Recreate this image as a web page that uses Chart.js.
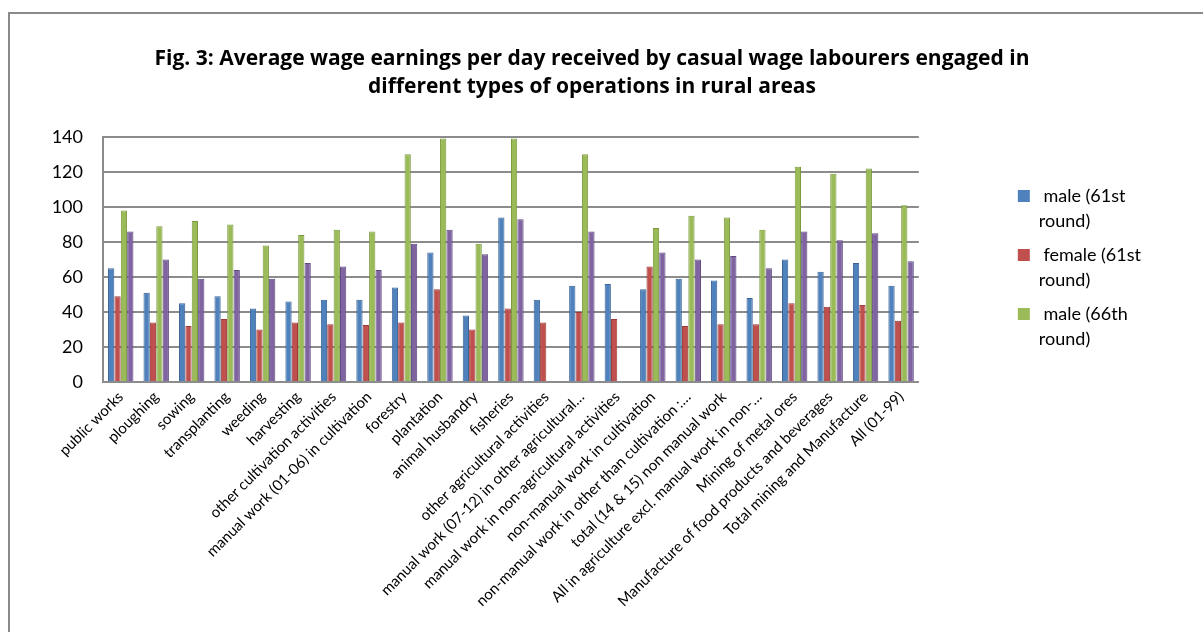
<!DOCTYPE html>
<html>
<head>
<meta charset="utf-8">
<script src="https://cdn.jsdelivr.net/npm/chart.js@4.4.1/dist/chart.umd.min.js"></script>
<style>
  html, body { margin: 0; padding: 0; background: #fff; overflow: hidden; }
  .frame {
    position: absolute; left: 8px; top: 12px; width: 1300px; height: 700px;
    border-left: 2px solid #8a8a8a; border-top: 2px solid #8a8a8a;
  }
  .wrap { position: absolute; left: 0; top: 0; width: 1203px; height: 632px; }
</style>
</head>
<body>
<div class="frame"></div>
<div class="wrap"><canvas id="wageChart" width="1203" height="632"></canvas></div>
<script>
// Categories (operations)
const categories = [
  "public works",
  "ploughing",
  "sowing",
  "transplanting",
  "weeding",
  "harvesting",
  "other cultivation activities",
  "manual work (01-06) in cultivation",
  "forestry",
  "plantation",
  "animal husbandry",
  "fisheries",
  "other agricultural activities",
  "manual work (07-12) in other agricultural…",
  "manual work in non-agricultural activities",
  "non-manual work in cultivation",
  "non-manual work in other than cultivation :…",
  "total (14 & 15) non manual work",
  "All in agriculture excl. manual work in non-…",
  "Mining of metal ores",
  "Manufacture of food products and beverages",
  "Total mining and Manufacture",
  "All (01-99)",
];

// Average wage per day (Rs.)
const male61 = [65, 51, 45, 49, 42, 46, 47, 47, 54, 74, 38, 94, 47, 55, 56, 53, 59, 58, 48, 70, 63, 68, 55];
const female61 = [49, 34, 32, 36, 30, 34, 33, 32.5, 34, 53, 30, 42, 34, 40, 36, 66, 32, 33, 33, 45, 43, 44, 35];
const male66 = [98, 89, 92, 90, 78, 84, 87, 86, 130, 139, 79, 139, null, 130, null, 88, 95, 94, 87, 123, 119, 122, 101];
const female66 = [86, 70, 59, 64, 59, 68, 66, 64, 79, 87, 73, 93, null, 86, null, 74, 70, 72, 65, 86, 81, 85, 69];

const seriesNames = ["male (61st round)", "female (61st round)", "male (66th round)", "female (66th round)"];
const titleLines = [
  "Fig. 3: Average wage earnings per day received by casual wage labourers engaged in",
  "different types of operations in rural areas",
];
const yTicks = [0, 20, 40, 60, 80, 100, 120, 140];

const fills = ["#4f81bd", "#c0504d", "#9bbb59", "#8064a2"];
const edges = ["#3a6496", "#9b3b38", "#7a9a3e", "#5f4a80"];
const seriesData = [male61, female61, male66, female66];

const ctx = document.getElementById("wageChart").getContext("2d");
new Chart(ctx, {
  type: "bar",
  data: {
    labels: categories,
    datasets: seriesData.map(function (d, i) {
      return {
        label: seriesNames[i],
        data: d,
        backgroundColor: fills[i],
        borderColor: edges[i],
        borderWidth: 1,
        categoryPercentage: 0.72,
        barPercentage: 0.98,
      };
    }),
  },
  options: {
    responsive: false,
    animation: false,
    devicePixelRatio: 1,
    layout: { padding: { left: 33, right: 52, top: 0, bottom: 0 } },
    scales: {
      x: {
        grid: { display: false, drawTicks: false },
        border: { display: true, color: "#8c8c8c", width: 2 },
        ticks: {
          autoSkip: false,
          minRotation: 45,
          maxRotation: 45,
          padding: 6,
          color: "#000",
          font: { family: "Lato", size: 15 },
        },
        afterFit: function (s) { s.height = 250; },
      },
      y: {
        min: 0,
        max: 140,
        afterBuildTicks: function (s) { s.ticks = yTicks.map(function (v) { return { value: v }; }); },
        grid: { color: "#8c8c8c", lineWidth: 2, drawTicks: false },
        border: { display: true, color: "#8c8c8c", width: 2 },
        ticks: { padding: 20, color: "#000", font: { family: "Lato", size: 18 } },
        afterFit: function (s) { s.width = 70; },
      },
      gap: {
        position: "right",
        display: true,
        grid: { display: false },
        border: { display: false },
        ticks: { display: false },
        afterFit: function (s) { s.width = 90; },
      },
    },
    plugins: {
      title: {
        display: true,
        text: titleLines,
        color: "#000",
        font: { family: "Open Sans", size: 21, weight: "bold", lineHeight: 1.33 },
        padding: { top: 45, bottom: 36 },
      },
      legend: {
        position: "right",
        fullSize: false,
        // blank legend title only pushes the entries down a little
        title: { display: true, text: " ", font: { size: 1 }, padding: { top: 11, bottom: 11 } },
        labels: {
          boxWidth: 12,
          boxHeight: 12,
          padding: 9,
          color: "#000",
          font: { family: "Lato", size: 18, lineHeight: 1.39 },
          filter: function (item) { return item.datasetIndex < 3; },
          generateLabels: function (chart) {
            const items = Chart.defaults.plugins.legend.labels.generateLabels(chart);
            items.forEach(function (it) {
              const t = String(it.text);
              const k = t.lastIndexOf(" ");
              it.text = [" " + t.slice(0, k), t.slice(k + 1)];
              it.lineWidth = 0;
            });
            return items;
          },
        },
      },
      tooltip: { enabled: false },
    },
  },
});
</script>
</body>
</html>
